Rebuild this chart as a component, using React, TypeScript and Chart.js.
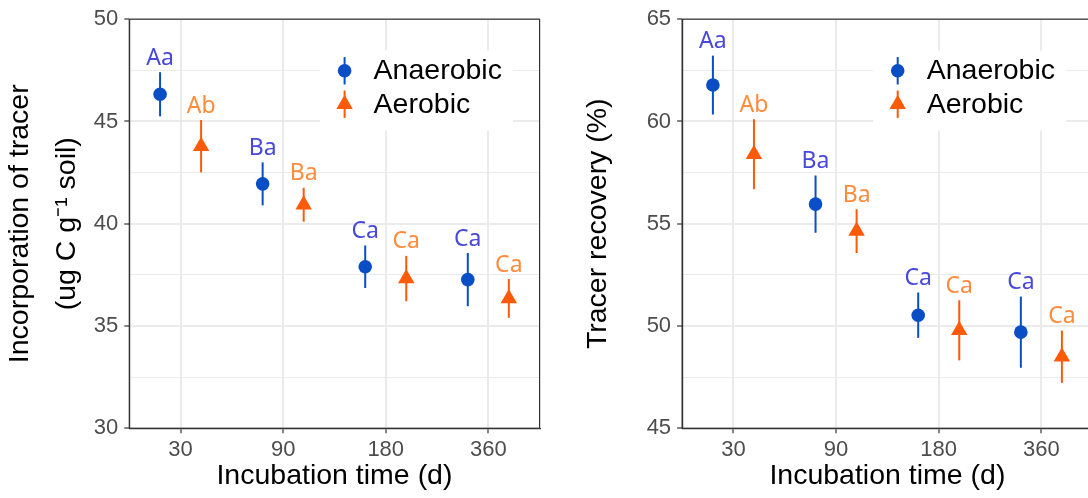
import React, { useEffect, useRef } from "react";
import { Chart, registerables } from "chart.js";

Chart.register(...registerables);

// ---------------- data ----------------
const categories = ["30", "90", "180", "360"];
const seriesNames = ["Anaerobic", "Aerobic"];

// Left panel: incorporation of tracer (ug C g-1 soil)
const incAnaerobicMean = [46.33, 41.95, 37.9, 37.27];
const incAnaerobicSE = [1.08, 1.05, 1.04, 1.3];
const incAerobicMean = [43.79, 40.93, 37.32, 36.35];
const incAerobicSE = [1.28, 0.83, 1.11, 0.95];
const incAnaerobicLetters = ["Aa", "Ba", "Ca", "Ca"];
const incAerobicLetters = ["Ab", "Ba", "Ca", "Ca"];
const incTicks = [30, 35, 40, 45, 50];

// Right panel: tracer recovery (%)
const recAnaerobicMean = [61.78, 55.96, 50.53, 49.7];
const recAnaerobicSE = [1.44, 1.4, 1.11, 1.74];
const recAerobicMean = [58.4, 54.64, 49.79, 48.5];
const recAerobicSE = [1.71, 1.07, 1.47, 1.28];
const recAnaerobicLetters = ["Aa", "Ba", "Ca", "Ca"];
const recAerobicLetters = ["Ab", "Ba", "Ca", "Ca"];
const recTicks = [45, 50, 55, 60, 65];

// ---------------- styles ----------------
const FONT = "'Liberation Sans', Arial, Helvetica, sans-serif";
const LETTER_FONT = "'Noto Sans', 'Open Sans', sans-serif";
const BLUE = "#0A4EC5";
const ORANGE = "#FF5A08";
const BLUE_TXT = "#4848DA";
const ORANGE_TXT = "#FF8B3D";
const AXIS = "#333333";
const GRID = "#EBEBEB";
const TICK_TXT = "#4D4D4D";
const DODGE = 0.2;
const CIRCLE_R = 6.8;
const TRI_R = 9.5;
const TITLE_SIZE = 28.5;

type PanelCfg = {
  anMean: number[];
  anSE: number[];
  aeMean: number[];
  aeSE: number[];
  anLet: string[];
  aeLet: string[];
  yTicks: number[];
  yTitle: string | string[];
  yTitleLH: number;
  yTitlePad: number;
  yAxisWidth: number;
  padRight: number;
};

function trianglePath(ctx: CanvasRenderingContext2D, x: number, y: number, r: number) {
  let rad = 0;
  ctx.beginPath();
  ctx.moveTo(x + Math.sin(rad) * r, y - Math.cos(rad) * r);
  rad += (2 * Math.PI) / 3;
  ctx.lineTo(x + Math.sin(rad) * r, y - Math.cos(rad) * r);
  rad += (2 * Math.PI) / 3;
  ctx.lineTo(x + Math.sin(rad) * r, y - Math.cos(rad) * r);
  ctx.closePath();
}

function buildChart(canvas: HTMLCanvasElement, p: PanelCfg) {
  const yMin = p.yTicks[0];
  const yMax = p.yTicks[p.yTicks.length - 1];
  const yAll: number[] = [];
  p.yTicks.forEach((v, i) => {
    yAll.push(v);
    if (i < p.yTicks.length - 1) yAll.push((v + p.yTicks[i + 1]) / 2);
  });
  const isMajor = (v: number) => p.yTicks.includes(v);

  const errorBars = {
    id: "errorBars",
    beforeDatasetsDraw(chart: any) {
      const ctx = chart.ctx;
      const xs = chart.scales.x;
      const ys = chart.scales.y;
      chart.data.datasets.forEach((ds: any) => {
        ctx.save();
        ctx.strokeStyle = ds.backgroundColor;
        ctx.lineWidth = 2;
        ds.data.forEach((pt: any, i: number) => {
          const x = xs.getPixelForValue(pt.x);
          const y1 = ys.getPixelForValue(pt.y - ds.se[i]);
          const y2 = ys.getPixelForValue(pt.y + ds.se[i]);
          ctx.beginPath();
          ctx.moveTo(x, y1);
          ctx.lineTo(x, y2);
          ctx.stroke();
        });
        ctx.restore();
      });
    },
    afterDatasetsDraw(chart: any) {
      const ctx = chart.ctx;
      const xs = chart.scales.x;
      const ys = chart.scales.y;
      chart.data.datasets.forEach((ds: any) => {
        ctx.save();
        ctx.fillStyle = ds.letterColor;
        ctx.font = `23px ${LETTER_FONT}`;
        ctx.textAlign = "center";
        ctx.textBaseline = "middle";
        ds.data.forEach((pt: any, i: number) => {
          const x = xs.getPixelForValue(pt.x);
          const y = ys.getPixelForValue(pt.y + ds.se[i]) - 14;
          ctx.fillText(ds.letters[i], x, y);
        });
        ctx.restore();
      });
    },
    afterDraw(chart: any) {
      const ctx = chart.ctx;
      const a = chart.chartArea;
      // panel border
      ctx.save();
      ctx.strokeStyle = AXIS;
      ctx.lineWidth = 1.2;
      ctx.strokeRect(a.left, a.top, a.right - a.left, a.bottom - a.top);
      // legend
      const bw = 193;
      const bh = 80;
      const bx = a.right - 26.6 - bw;
      const by = a.top + 31.3;
      ctx.fillStyle = "#ffffff";
      ctx.fillRect(bx, by, bw, bh);
      const sx = a.right - 195;
      const tx = a.right - 166;
      const rowY = [a.top + 51.6, a.top + 85];
      const baseY = [a.top + 60, a.top + 94];
      const cols = [BLUE, ORANGE];
      rowY.forEach((y, k) => {
        ctx.strokeStyle = cols[k];
        ctx.fillStyle = cols[k];
        ctx.lineWidth = 2;
        ctx.beginPath();
        ctx.moveTo(sx, y - 13.7);
        ctx.lineTo(sx, y + 13.7);
        ctx.stroke();
        if (k === 0) {
          ctx.beginPath();
          ctx.arc(sx, y, CIRCLE_R, 0, Math.PI * 2);
          ctx.fill();
        } else {
          trianglePath(ctx, sx, y, TRI_R);
          ctx.fill();
        }
        ctx.fillStyle = "#000000";
        ctx.font = `${TITLE_SIZE}px ${FONT}`;
        ctx.textAlign = "left";
        ctx.textBaseline = "alphabetic";
        ctx.fillText(seriesNames[k], tx, baseY[k]);
      });
      ctx.restore();
    },
  };

  return new Chart(canvas, {
    type: "scatter",
    data: {
      datasets: [
        {
          label: seriesNames[0],
          data: p.anMean.map((v, i) => ({ x: i - DODGE, y: v })),
          se: p.anSE,
          letters: p.anLet,
          letterColor: BLUE_TXT,
          backgroundColor: BLUE,
          borderColor: BLUE,
          pointStyle: "circle",
          pointRadius: CIRCLE_R,
          pointBorderWidth: 0,
          pointHoverRadius: CIRCLE_R,
        } as any,
        {
          label: seriesNames[1],
          data: p.aeMean.map((v, i) => ({ x: i + DODGE, y: v })),
          se: p.aeSE,
          letters: p.aeLet,
          letterColor: ORANGE_TXT,
          backgroundColor: ORANGE,
          borderColor: ORANGE,
          pointStyle: "triangle",
          pointRadius: TRI_R,
          pointBorderWidth: 0,
          pointHoverRadius: TRI_R,
        } as any,
      ],
    },
    options: {
      responsive: false,
      animation: false,
      devicePixelRatio: 1,
      events: [],
      layout: { padding: { left: 0, top: 16.7, right: p.padRight, bottom: 0 } },
      plugins: {
        legend: { display: false },
        tooltip: { enabled: false },
        title: { display: false },
      },
      scales: {
        x: {
          type: "linear",
          min: -0.5,
          max: 3.5,
          afterBuildTicks: (s: any) => {
            s.ticks = categories.map((_, i) => ({ value: i }));
          },
          afterFit: (s: any) => {
            s.height = 69.7;
          },
          ticks: {
            callback: (v: any) => categories[Math.round(v)] ?? "",
            color: TICK_TXT,
            font: { family: FONT, size: 22 },
            padding: 3,
            maxRotation: 0,
            autoSkip: false,
          },
          grid: {
            color: GRID,
            lineWidth: 2,
            tickColor: AXIS,
            tickLength: 5,
            tickWidth: 1.2,
          },
          border: { display: true, color: AXIS, width: 1.2 },
          title: {
            display: true,
            text: "Incubation time (d)",
            color: "#000000",
            font: { family: FONT, size: TITLE_SIZE },
            padding: { top: 0, bottom: 5 },
          },
        },
        y: {
          type: "linear",
          min: yMin,
          max: yMax,
          afterBuildTicks: (s: any) => {
            s.ticks = yAll.map((v) => ({ value: v }));
          },
          afterFit: (s: any) => {
            s.width = p.yAxisWidth;
          },
          ticks: {
            callback: (v: any) => (isMajor(v) ? String(v) : ""),
            color: TICK_TXT,
            font: { family: FONT, size: 22 },
            padding: 6,
            autoSkip: false,
          },
          grid: {
            color: GRID,
            lineWidth: (c: any) => (isMajor(c.tick?.value) ? 2 : 1),
            tickColor: (c: any) => (isMajor(c.tick?.value) ? AXIS : "rgba(0,0,0,0)"),
            tickLength: 5,
            tickWidth: 1.2,
          },
          border: { display: true, color: AXIS, width: 1.2 },
          title: {
            display: true,
            text: p.yTitle,
            color: "#000000",
            font: { family: FONT, size: TITLE_SIZE, lineHeight: p.yTitleLH },
            padding: { top: p.yTitlePad, bottom: 0 },
          },
        },
      },
    } as any,
    plugins: [errorBars],
  });
}

export default function App() {
  const leftRef = useRef<HTMLCanvasElement>(null);
  const rightRef = useRef<HTMLCanvasElement>(null);

  useEffect(() => {
    const c1 = buildChart(leftRef.current!, {
      anMean: incAnaerobicMean,
      anSE: incAnaerobicSE,
      aeMean: incAerobicMean,
      aeSE: incAerobicSE,
      anLet: incAnaerobicLetters,
      aeLet: incAerobicLetters,
      yTicks: incTicks,
      yTitle: ["Incorporation of tracer", "(ug C g\u207B\u00B9 soil)"],
      yTitleLH: 46.7 / TITLE_SIZE,
      yTitlePad: -3.25,
      yAxisWidth: 129.3,
      padRight: 560 - 539.6,
    });
    const c2 = buildChart(rightRef.current!, {
      anMean: recAnaerobicMean,
      anSE: recAnaerobicSE,
      aeMean: recAerobicMean,
      aeSE: recAerobicSE,
      anLet: recAnaerobicLetters,
      aeLet: recAerobicLetters,
      yTicks: recTicks,
      yTitle: "Tracer recovery (%)",
      yTitleLH: 1.2,
      yTitlePad: 37.3,
      yAxisWidth: 138.1,
      padRight: 560 - 548.7,
    });
    return () => {
      c1.destroy();
      c2.destroy();
    };
  }, []);

  return (
    <div
      style={{
        position: "absolute",
        left: 0,
        top: 0,
        width: 1088,
        height: 498,
        overflow: "hidden",
        background: "#ffffff",
      }}
    >
      <canvas
        ref={leftRef}
        width={560}
        height={498}
        style={{ position: "absolute", left: 0, top: 0, width: 560, height: 498 }}
      />
      <canvas
        ref={rightRef}
        width={560}
        height={498}
        style={{ position: "absolute", left: 544, top: 0, width: 560, height: 498 }}
      />
    </div>
  );
}
